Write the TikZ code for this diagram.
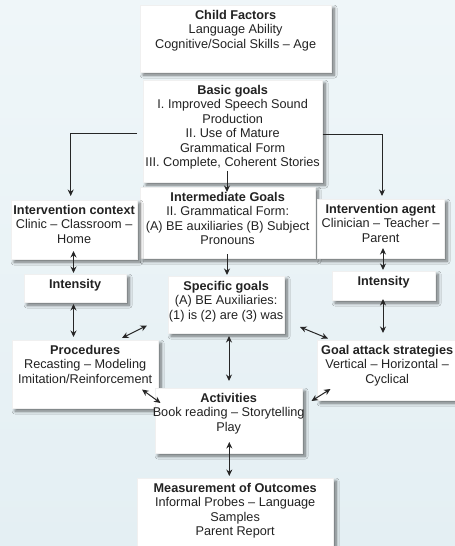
\documentclass[tikz,border=0pt]{standalone}
\usepackage{fontspec}
\setmainfont{Liberation Sans}
\usetikzlibrary{arrows.meta,shadows.blur}
\definecolor{bgtop}{HTML}{EFF6F9}
\definecolor{bgbot}{HTML}{E4EFF3}
\definecolor{txtc}{HTML}{222222}
\newcommand\mybox[6]{%
  \node[box, minimum width=#4bp, minimum height=#5bp] (#1) at (#2,#3) {};
  \node[txt] (#1t) at ([yshift=-4.7bp]#1.north) {#6};}
\begin{document}
\begin{tikzpicture}[x=1bp,y=-1bp,
  box/.style={fill=white, draw=gray!12, line width=0.3bp, inner sep=0, anchor=north west,
    blur shadow={shadow xshift=3bp, shadow yshift=-3bp, shadow blur radius=3bp, shadow blur steps=8, shadow opacity=55}},
  txt/.style={anchor=north, align=center, inner sep=0, font=\fontsize{12.7bp}{14.5bp}\selectfont, text=txtc},
  tip/.tip={Stealth[length=6.5bp,width=6bp]},
  arr/.style={-tip, line width=1bp, black!85},
  darr/.style={tip-tip, line width=1bp, black!85}]
\fill[top color=bgtop, bottom color=bgbot] (0,0) rectangle (455,546);
\useasboundingbox (0,0) rectangle (455,546);

\mybox{cf}{140}{5}{191}{67}{\textbf{Child Factors}\\Language Ability\\Cognitive/Social Skills -- Age}
\mybox{bg}{143}{80}{179}{102}{\textbf{Basic goals}\\I. Improved Speech Sound\\Production\\II. Use of Mature\\Grammatical Form\\III. Complete, Coherent Stories}
\mybox{ig}{140}{187}{175}{71}{\textbf{Intermediate Goals}\\II. Grammatical Form:\\(A) BE auxiliaries (B) Subject\\Pronouns}
\mybox{ctx}{11}{200}{126}{59}{\textbf{Intervention context}\\Clinic -- Classroom --\\Home}
\mybox{ag}{317}{199}{127}{59}{\textbf{Intervention agent}\\Clinician -- Teacher --\\Parent}
\mybox{il}{24}{274}{102}{28}{\textbf{Intensity}}
\mybox{ir}{332}{271}{103}{29}{\textbf{Intensity}}
\mybox{sg}{168}{276}{116}{57}{\textbf{Specific goals}\\(A) BE Auxiliaries:\\(1) is (2) are (3) was}
\mybox{proc}{12}{340}{146}{68}{\textbf{Procedures}\\Recasting -- Modeling\\Imitation/Reinforcement}
\mybox{ga}{317}{340}{140}{60}{\textbf{Goal attack strategies}\\Vertical -- Horizontal --\\Cyclical}
\mybox{act}{155}{388}{147}{65}{\textbf{Activities}\\Book reading -- Storytelling\\Play}
\mybox{meas}{137}{478}{196}{75}{\textbf{Measurement of Outcomes}\\Informal Probes -- Language\\Samples\\Parent Report}

% connector end points
\coordinate (bgL) at (137,133.3);  \coordinate (ctxN) at (70.7,196);
\coordinate (bgR) at (322.7,134.3); \coordinate (agN) at (382,196);
\coordinate (bgS) at (227,171);    \coordinate (igN) at (227,192);
\coordinate (igS) at (227,254);    \coordinate (sgN) at (227,275);
\coordinate (ctxS) at (73.5,251);  \coordinate (ilN) at (73.5,273);
\coordinate (ilS) at (73.5,304);   \coordinate (procN) at (73.5,337);
\coordinate (agS) at (383,248);    \coordinate (irN) at (383,270);
\coordinate (irS) at (383,299);    \coordinate (gaN) at (383,333);
\coordinate (procNE) at (122,338); \coordinate (sgSW) at (147,325.5);
\coordinate (sgSE) at (300,327);   \coordinate (gaNW) at (328,338.5);
\coordinate (sgS) at (229,336);    \coordinate (actN) at (229,381);
\coordinate (procSE) at (142,389.5); \coordinate (actNW) at (160.5,403);
\coordinate (gaSW) at (330.5,389);   \coordinate (actNE) at (311.5,401);
\coordinate (actS) at (229.3,442);  \coordinate (measN) at (229.3,476);

\draw[arr] (bgL) -| (ctxN);
\draw[arr] (bgR) -| (agN);
\draw[arr] (bgS) -- (igN);
\draw[arr] (igS) -- (sgN);
\draw[darr] (ctxS) -- (ilN);
\draw[darr] (ilS) -- (procN);
\draw[darr] (agS) -- (irN);
\draw[darr] (irS) -- (gaN);
\draw[darr] (procNE) -- (sgSW);
\draw[darr] (sgSE) -- (gaNW);
\draw[darr] (sgS) -- (actN);
\draw[darr] (procSE) -- (actNW);
\draw[darr] (gaSW) -- (actNE);
\draw[darr] (actS) -- (measN);
\end{tikzpicture}
\end{document}
